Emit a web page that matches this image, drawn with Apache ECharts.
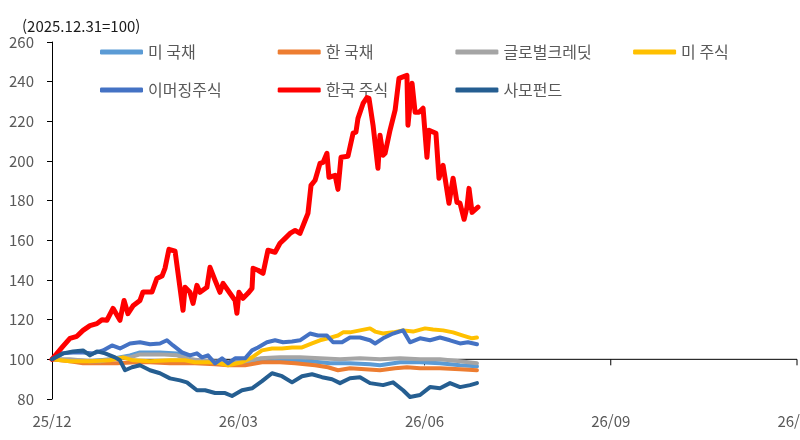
<!DOCTYPE html>
<html lang="ko">
<head>
<meta charset="UTF-8">
<title>자산별 수익률</title>
<style>
  html, body { margin: 0; padding: 0; background: #fff; }
  #main { width: 800px; height: 440px; }
</style>
</head>
<body>
<div id="main"></div>
<script src="https://cdn.jsdelivr.net/npm/echarts@6/dist/echarts.min.js"></script>
<script>
// x = days since 2025-12-31, y = index (2025.12.31 = 100)
var tickLabels = ['25/12', '26/03', '26/06', '26/09', '26/12'];
var seriesNames = ['미 국채', '한 국채', '글로벌크레딧', '미 주식', '이머징주식', '한국 주식', '사모펀드'];
var seriesColors = ['#5B9BD5', '#ED7D31', '#A5A5A5', '#FFC000', '#4472C4', '#FF0000', '#255E91'];

var usBond = [[0,100],[8.8,99.5],[18.6,99],[28.4,100],[38.2,102],[43.1,103.5],[52.9,103.5],[61.2,103],
  [67.6,100],[77.4,98.5],[87.2,97.5],[97,98.5],[106.8,99],[116.6,99.5],[126.4,99],[136.2,98],[146,98],
  [155.8,97.5],[160.7,97],[170.5,98.5],[180.3,98.5],[190.1,98],[199.9,97],[208.2,96.5]];

var krBond = [[0,100],[8.8,99],[15.2,98],[23.5,98],[31.8,98],[40.7,98.5],[48,98.5],[57.8,98],[70,98],
  [79.9,97.5],[86.2,97],[94.6,97],[102.9,98.5],[111.7,98.5],[119.1,98],[128.9,97],[135.2,96],[140.1,94.5],
  [146,95.5],[153.4,95],[160.7,94.5],[168.1,95.5],[173.9,96],[180.3,95.5],[190.1,95.5],[199.9,95],[208.2,94.5]];

var credit = [[0,100],[8.8,100],[18.6,99],[23.5,99],[30.9,100.5],[38.2,101],[43.1,102.5],[52.9,102.5],
  [61.2,102],[67.6,100],[77.4,99],[87.2,98.5],[94.6,99],[101.9,100.5],[111.7,101],[121.5,101],[131.3,100.5],
  [141.1,100],[150.9,100.5],[160.7,100],[170.5,100.5],[180.3,100],[190.1,100],[199.9,99],[208.2,98]];

var usStock = [[0,100],[8.8,99],[18.6,99],[28.4,99.5],[34.8,101],[39.7,99.5],[48,99],[57.8,99.5],[65.2,99.5],
  [70,98.5],[79.9,98.5],[86.2,97],[93.1,98.5],[98,101],[102.9,104.5],[107.8,105.5],[112.7,105.5],[117.6,106],
  [122.5,106],[127.4,108],[131.3,109.6],[135.2,110.6],[140.1,112],[142.6,113.6],[146,113.6],[150.9,114.6],
  [155.8,115.6],[158.3,114],[162.2,113],[167.1,113.6],[172,114.6],[176.9,114],[182.8,115.6],[186.7,115],
  [191.6,114.6],[196.5,113.6],[201.4,112],[205.8,110.6],[208.2,111]];

var emStock = [[0,100],[5.4,103],[10.3,103.5],[15.2,103.5],[20.1,103],[25,104.5],[29.4,107],[33.3,105.5],
  [38.2,108],[43.1,108.6],[48,107.6],[52.9,108],[56.3,109.6],[59.3,107],[63.7,103.5],[67.6,102],[71,103],
  [73.5,101],[76.4,102],[79.9,98],[83.3,100.5],[86.2,98],[89.7,100.5],[94.6,100.5],[98,104.5],[100.9,106],
  [105.3,108.6],[109.3,109.6],[113.2,108.6],[117.6,109],[121.5,109.6],[126.4,113],[130.3,112],[134.7,112],
  [137.7,108.6],[142.1,108.6],[146,111],[150.9,111],[155.8,109.6],[158.3,108],[162.2,110.6],[167.1,113],
  [172,114.6],[175.4,108.6],[180.3,110.6],[185.2,109.6],[190.1,111],[195,109.6],[199.9,108],[203.8,108.6],
  [208.2,107.6]];

var krStock = [[0,100],[4.9,106],[8.8,110.6],[12.2,111.6],[15.2,114.6],[18.6,117],[22,118],[24.5,120],
  [26.9,119.7],[29.9,125.7],[33.3,119.7],[35.3,129.7],[37.2,123],[39.7,127],[43.1,129.7],[44.6,134],[49,134],
  [51.4,140.8],[53.9,142],[55.4,146],[57.3,155.5],[60.3,154.5],[61.2,154],[64.2,124.7],[65.2,136.3],
  [67.6,133.8],[69.1,128.2],[71,137.3],[72.5,133.8],[75.9,136.3],[77.4,146.4],[79.9,139.8],[82.3,133.8],
  [83.8,138.3],[87.2,133.3],[89.7,129.7],[90.6,123.2],[91.6,133.8],[93.6,130.8],[96,133.3],[98,135.8],
  [98.5,145.9],[100.9,144.9],[103.4,143.4],[105.8,155],[109.3,154],[111.7,158.5],[114.2,161],[116.6,163.5],
  [119.1,165],[121.5,163.5],[124,170],[125.4,173.6],[126.9,187.7],[128.9,190.3],[131.3,198.8],[132.8,199.3],
  [134.7,203.9],[135.7,191.8],[138.7,192.8],[140.1,185.7],[141.6,201.9],[145,202.4],[147.5,214],[148.9,214.5],
  [149.9,221.5],[152.4,229],[154.3,232],[155.3,231.6],[157.3,218],[159.7,196.3],[160.7,213],[162.2,202.9],
  [163.2,203.9],[165.6,215.5],[168.1,225.6],[170,241.7],[173.9,243.2],[174.4,218],[176.4,239.2],[177.9,224.6],
  [179.8,224.6],[181.8,226.6],[183.7,201.9],[184.7,215.5],[188.1,214],[189.6,191.3],[191.6,197.8],
  [194.5,178.7],[196.5,191.3],[198.4,179.2],[199.9,178.7],[201.9,170.6],[203.3,176.7],[204.3,186.2],
  [205.8,174.1],[208.7,176.7]];

var peFund = [[0,100],[5.4,103],[10.3,104],[15.2,104.5],[18.6,102],[22,104],[26,103],[30.9,101],[33.3,99.5],
  [35.8,94.5],[39.2,96],[43.1,97],[48,94.5],[52.9,93],[57.8,90.4],[62.7,89.4],[66.1,88.4],[71,84.4],[75,84.4],
  [79.9,83],[84.8,83],[88.2,81.5],[93.1,84.4],[98,85.4],[102.9,89],[107.8,93],[112.7,91.5],[117.6,88.4],
  [122.5,91.5],[127.4,92.5],[132.3,91],[137.2,90],[141.1,88],[146,90.5],[150.9,91],[155.8,88],[162.2,87],
  [167.1,88.4],[172,84.4],[175.4,81],[180.3,82],[185.2,86],[190.1,85.4],[195,88],[199.9,86],[204.8,87],
  [208.2,88]];

var seriesData = [usBond, krBond, credit, usStock, emStock, krStock, peFund];

var quarter = 91.25;
var xMax = 365;
var yMin = 80, yMax = 260, yCross = 100;
var font = '"Noto Sans CJK KR", "Noto Sans", sans-serif';
var myChart = echarts.init(document.getElementById('main'));

// quarter tick positions for the axis line that crosses at 100
var quarterTicks = [];
for (var k = 0; k * quarter <= xMax + 0.01; k++) quarterTicks.push([k * quarter]);

var series = [{
  type: 'custom',
  silent: true,
  z: 1,
  clip: false,
  data: quarterTicks,
  renderItem: function (params, api) {
    var x = api.value(0);
    var p = api.coord([x, yCross]);
    var children = [];
    if (params.dataIndex === 0) {
      var end = api.coord([xMax, yCross]);
      children.push({
        type: 'line',
        shape: { x1: p[0], y1: p[1], x2: end[0], y2: end[1] },
        style: { stroke: '#000', lineWidth: 1 }
      });
    } else {
      children.push({
        type: 'line',
        shape: { x1: p[0], y1: p[1], x2: p[0], y2: p[1] + 6 },
        style: { stroke: '#000', lineWidth: 1 }
      });
    }
    return { type: 'group', children: children };
  }
}];
for (var i = 0; i < seriesNames.length; i++) {
  series.push({
    name: seriesNames[i],
    type: 'line',
    data: seriesData[i],
    symbol: 'none',
    showSymbol: false,
    color: seriesColors[i],
    lineStyle: { width: seriesNames[i] === '한국 주식' ? 5 : 4, join: 'round', cap: 'round' },
    z: 3 + i
  });
}

// one legend per item, 4 per row
var legends = [];
for (var j = 0; j < seriesNames.length; j++) {
  legends.push({
    data: [seriesNames[j]],
    left: 100 + (j % 4) * 177.7,
    top: j < 4 ? 44 : 82,
    padding: 0,
    itemWidth: 43,
    itemHeight: 5,
    icon: 'roundRect',
    textStyle: { color: '#595959', fontSize: 16, fontFamily: font }
  });
}

var option = {
  animation: false,
  backgroundColor: '#fff',
  textStyle: { fontFamily: font },
  title: {
    text: '(2025.12.31=100)',
    left: 22,
    top: 19,
    padding: 0,
    textStyle: { fontSize: 15, fontWeight: 'normal', color: '#1a1a1a', fontFamily: font }
  },
  legend: legends,
  grid: { left: 52, right: 3, top: 42, bottom: 41, outerBoundsMode: 'none', containLabel: false },
  xAxis: {
    type: 'value',
    min: 0,
    max: xMax,
    interval: quarter,
    axisLine: { show: false },
    axisTick: { show: false },
    splitLine: { show: false },
    axisLabel: {
      margin: 15,
      fontSize: 15,
      color: '#595959',
      fontFamily: font,
      formatter: function (v) { return tickLabels[Math.round(v / quarter)]; }
    }
  },
  yAxis: {
    type: 'value',
    min: yMin,
    max: yMax,
    interval: 20,
    axisLine: { show: true, lineStyle: { color: '#000', width: 1 } },
    axisTick: { show: true, length: 5, lineStyle: { color: '#000', width: 1 } },
    splitLine: { show: false },
    axisLabel: { margin: 18, fontSize: 15, color: '#595959', fontFamily: font }
  },
  series: series
};

myChart.setOption(option);
</script>
</body>
</html>
